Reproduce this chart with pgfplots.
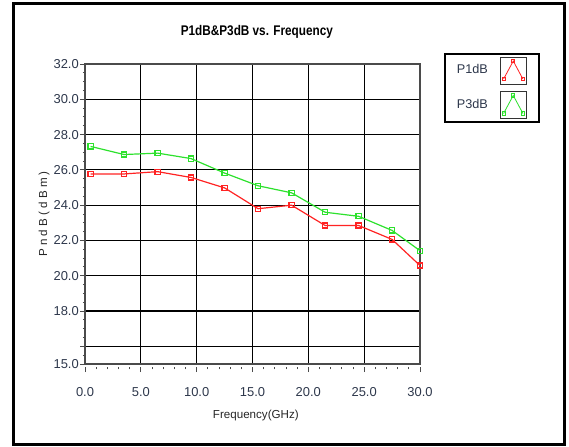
\documentclass[border=0pt]{standalone}
\usepackage{fontspec}
\setmainfont{Liberation Sans}
\newfontfamily\condfont{Liberation Sans}[FakeStretch=0.84]
\usepackage{pgfplots}
\pgfplotsset{compat=1.18}

\definecolor{pred}{RGB}{255,35,35}
\definecolor{pgreen}{RGB}{45,225,45}
\definecolor{tickc}{RGB}{45,55,75}
\definecolor{axgray}{RGB}{75,75,75}

\newcommand{\ls}{\kern2.4pt}

\begin{document}
\begin{tikzpicture}
% 1 px of the reference = 0.75pt
\path[use as bounding box] (0,0) rectangle (426.75pt,-335.25pt);
\draw[black, line width=2.25pt] (10.1pt,-2.6pt) rectangle (423.4pt,-333.4pt);
\begin{axis}[
    at={(63.75pt,-273pt)}, anchor=south west,
    scale only axis,
    width=251.25pt, height=225pt,
    xmin=0, xmax=30, ymin=15, ymax=32,
    xtick={0,5,...,30},
    xticklabels={0.0,5.0,10.0,15.0,20.0,25.0,30.0},
    minor xtick={0,1,...,30},
    ytick={15,16,18,20,22,24,26,28,30,32},
    yticklabels={15.0,,18.0,20.0,22.0,24.0,26.0,28.0,30.0,32.0},
    minor ytick={15,15.5,...,32},
    tick align=outside,
    major tick length=3.5pt,
    minor tick length=1.6pt,
    tick style={axgray, line width=0.7pt},
    xtick pos=bottom, ytick pos=left,
    x tick style={yshift=-2.5pt},
    grid=major,
    major grid style={black, line width=0.9pt},
    axis line style={axgray, line width=1.3pt},
    ticklabel style={font=\fontsize{9.7}{11}\selectfont, text=tickc},
    yticklabel style={inner sep=1pt},
    xticklabel style={yshift=-10.5pt},
    title={P1dB\&P3dB vs. Frequency},
    title style={font=\condfont\bfseries\fontsize{10.5}{12}\selectfont,
        at={(rel axis cs:0.513,1.08)}, anchor=center},
    xlabel={Frequency(GHz)},
    xlabel style={font=\fontsize{8.7}{10}\selectfont, text=black!85,
        at={(rel axis cs:0.51,-0.172)}, anchor=center},
    ylabel={P\ls n\ls d\ls B\ls (\ls d\ls B\ls m\ls )},
    ylabel style={font=\fontsize{8.7}{10}\selectfont, text=black!85,
        at={(rel axis cs:-0.122,0.5)}, anchor=center},
    legend plot pos=right,
    legend image code/.code={
        \draw[black!80, line width=0.8pt, fill=white] (0pt,-10.5pt) rectangle (19.5pt,10pt);
        \draw[#1, line width=0.6pt, mark size=1.2pt]
            plot coordinates {(2.5pt,-6.5pt) (9.75pt,7pt) (17pt,-6.5pt)};
        \path[draw=none] (0pt,0pt) -- (29pt,0pt);
    },
    legend style={at={(rel axis cs:1.072,1.037)}, anchor=north west,
        draw=black, line width=1.4pt, fill=white,
        inner xsep=0pt, inner ysep=2pt, row sep=4.5pt,
        font=\fontsize{9.5}{11}\selectfont,
        nodes={inner sep=0pt, minimum width=41pt, align=center, text=tickc}},
]
\addplot[pred, line width=0.9pt, mark=square, mark size=1.9pt,
    mark options={solid, fill=none}] coordinates {
    (0.5,25.77) (3.5,25.77) (6.5,25.90) (9.5,25.57) (12.5,24.98)
    (15.5,23.80) (18.5,24.00) (21.5,22.85) (24.5,22.85) (27.5,22.06)
    (30.0,20.58)
};
\addplot[pgreen, line width=0.9pt, mark=square, mark size=1.9pt,
    mark options={solid, fill=none}] coordinates {
    (0.5,27.33) (3.5,26.87) (6.5,26.95) (9.5,26.64) (12.5,25.82)
    (15.5,25.10) (18.5,24.70) (21.5,23.60) (24.5,23.37) (27.5,22.57)
    (30.0,21.42)
};
\legend{P1dB,P3dB}
\end{axis}
\end{tikzpicture}
\end{document}
